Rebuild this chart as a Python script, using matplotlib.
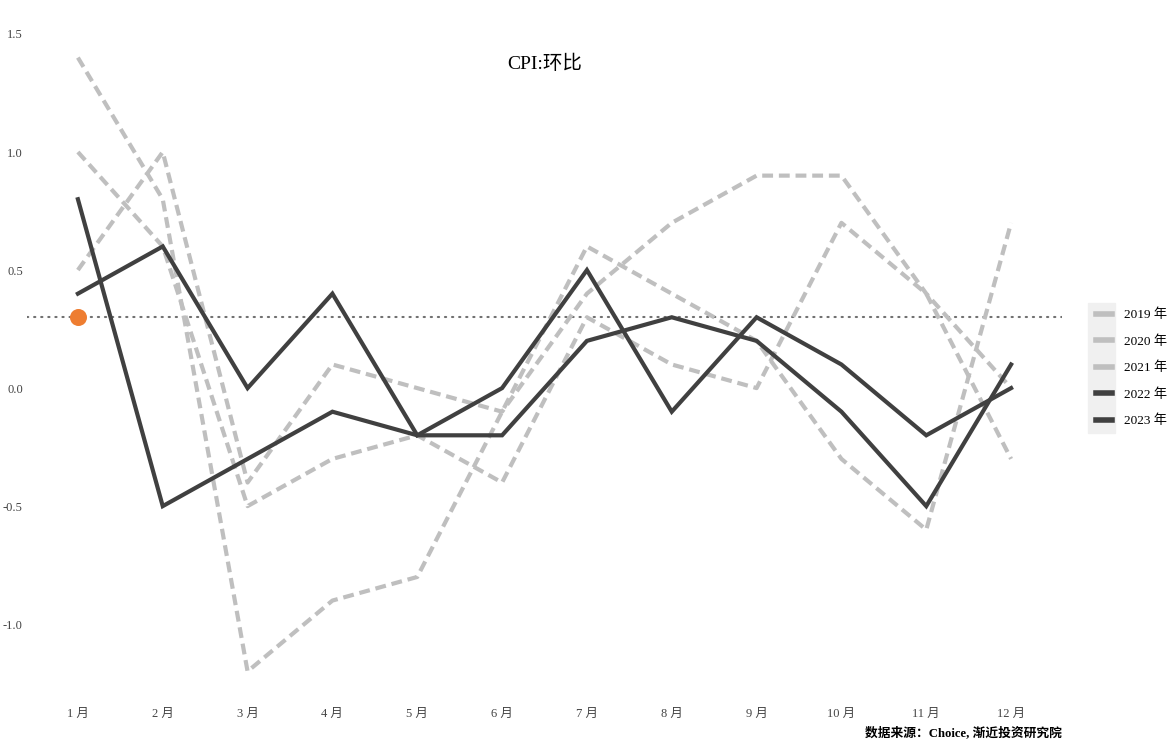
import numpy as np
import matplotlib
matplotlib.use("Agg")
import matplotlib.pyplot as plt
from matplotlib.lines import Line2D
from matplotlib.patches import Rectangle

plt.rcParams['font.family'] = ['Liberation Serif', 'Noto Sans CJK SC']

# data: CPI month-on-month (%)
months = ['1 月', '2 月', '3 月', '4 月', '5 月', '6 月',
          '7 月', '8 月', '9 月', '10 月', '11 月', '12 月']
years = ['2019 年', '2020 年', '2021 年', '2022 年', '2023 年']
cpi_2019 = [0.5, 1.0, -0.4, 0.1, 0.0, -0.1, 0.4, 0.7, 0.9, 0.9, 0.4, 0.0]
cpi_2020 = [1.4, 0.8, -1.2, -0.9, -0.8, -0.1, 0.6, 0.4, 0.2, -0.3, -0.6, 0.7]
cpi_2021 = [1.0, 0.6, -0.5, -0.3, -0.2, -0.4, 0.3, 0.1, 0.0, 0.7, 0.4, -0.3]
cpi_2022 = [0.4, 0.6, 0.0, 0.4, -0.2, 0.0, 0.5, -0.1, 0.3, 0.1, -0.2, 0.0]
cpi_2023 = [0.8, -0.5, -0.3, -0.1, -0.2, -0.2, 0.2, 0.3, 0.2, -0.1, -0.5, 0.1]
latest_value = 0.3   # latest reading (Jan), marked by the dot and reference line
yticks = [-1.0, -0.5, 0.0, 0.5, 1.0, 1.5]

series = [cpi_2019, cpi_2020, cpi_2021, cpi_2022, cpi_2023]
GRAY = '#bfbfbf'
DARK = '#404040'
colors = [GRAY, GRAY, GRAY, DARK, DARK]

fig = plt.figure(figsize=(11.7, 7.46), dpi=100)
ax = fig.add_axes([27/1170, 51/746, (1062-27)/1170, (721-51)/746])

x = np.arange(1, 13)
for vals, c in zip(series, colors):
    if c == GRAY:
        ax.plot(x, vals, color=c, lw=3, ls=(0, (2.6, 1.4)), zorder=2)
    else:
        ax.plot(x, vals, color=DARK, lw=3, zorder=3, solid_joinstyle='miter')

ax.axhline(latest_value, color='#707070', lw=1.5, ls=(0, (0.6, 2.8)),
           dash_capstyle='round', zorder=1)
ax.scatter([1], [latest_value], s=150, color='#ee7d31', zorder=4, lw=0)

ax.set_xlim(0.4, 12.6)
ax.set_ylim(-1.30, 1.538)
ax.set_xticks(x)
ax.set_xticklabels(months)
ax.set_yticks(yticks)
ax.set_yticklabels([f'{v:.1f}' for v in yticks])
ax.tick_params(length=0, labelsize=9, colors='#444444')
ax.tick_params(axis='x', pad=9)
ax.tick_params(axis='y', pad=3)
for s in ax.spines.values():
    s.set_visible(False)

ax.set_title('CPI:环比', fontsize=14, y=1.0, pad=-32, color='black')

# legend with grey key background
fig.patches.append(Rectangle((1088/1170, 1-433/746), 27/1170, 130/746,
                             transform=fig.transFigure, color='#f0f0f0',
                             zorder=0))
handles = [Line2D([], [], color=c, lw=4) for c in colors]
fig.legend(handles, years, loc='center left', bbox_to_anchor=(1084/1170, 1-368/746),
           frameon=False, fontsize=9.5, handlelength=1.25, handletextpad=0.9,
           labelspacing=1.05)

fig.text(1062/1170, 1-733/746, '数据来源：Choice, 渐近投资研究院',
         ha='right', va='center', fontsize=9.2, fontweight='bold')

fig.savefig('out.png', dpi=100)
